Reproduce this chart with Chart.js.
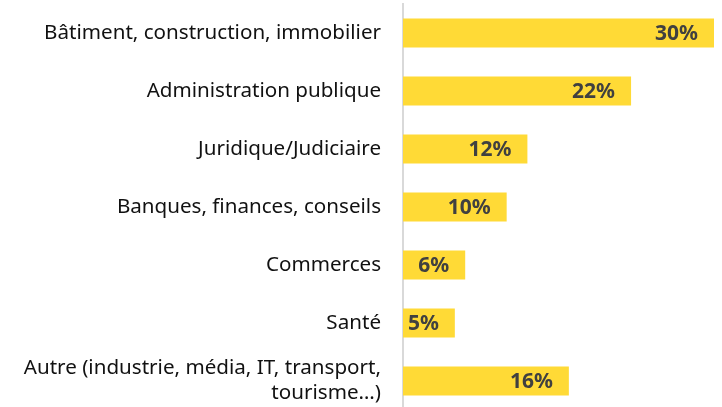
<!DOCTYPE html>
<html>
<head>
<meta charset="utf-8">
<script src="https://cdn.jsdelivr.net/npm/chart.js@4"></script>
<style>
  html, body { margin: 0; padding: 0; background: #fff; overflow: hidden; }
  #wrap { width: 722px; height: 410px; position: relative; }
</style>
</head>
<body>
<div id="wrap"><canvas id="chart"></canvas></div>
<script>
const categories = [
  "Bâtiment, construction, immobilier",
  "Administration publique",
  "Juridique/Judiciaire",
  "Banques, finances, conseils",
  "Commerces",
  "Santé",
  ["Autre (industrie, média, IT, transport,", "tourisme…)"]
];
const values = [30, 22, 12, 10, 6, 5, 16];

const barColor = "#FFDA36";
const labelFont = "'Noto Sans'";

// draw the % labels inside the bar ends
const valueLabels = {
  id: "valueLabels",
  afterDatasetsDraw(chart) {
    const ctx = chart.ctx;
    const meta = chart.getDatasetMeta(0);
    ctx.save();
    ctx.font = "bold 21px " + labelFont;
    ctx.fillStyle = "#404040";
    ctx.textAlign = "right";
    ctx.textBaseline = "middle";
    meta.data.forEach((bar, i) => {
      ctx.fillText(values[i] + "%", bar.x - 16, bar.y + 1);
    });
    ctx.restore();
  }
};

new Chart(document.getElementById("chart"), {
  type: "bar",
  data: {
    labels: categories,
    datasets: [{
      data: values,
      backgroundColor: barColor,
      barPercentage: 1,
      categoryPercentage: 0.5
    }]
  },
  options: {
    indexAxis: "y",
    responsive: true,
    maintainAspectRatio: false,
    animation: false,
    layout: { padding: { top: 4, right: 8, left: 0, bottom: 0 } },
    plugins: {
      legend: { display: false },
      tooltip: { enabled: false }
    },
    scales: {
      x: {
        display: false,
        min: 0,
        max: 30
      },
      y: {
        grid: { display: false, drawTicks: false },
        border: { display: true, color: "#d9d9d9", width: 2 },
        ticks: {
          color: "#111",
          padding: 22,
          font: { family: labelFont, size: 20.6, lineHeight: 1.22 }
        },
        afterFit(scale) {
          scale.width = 403;
          scale.paddingTop = 0;
          scale.paddingBottom = 0;
        }
      }
    }
  },
  plugins: [valueLabels]
});
</script>
</body>
</html>
